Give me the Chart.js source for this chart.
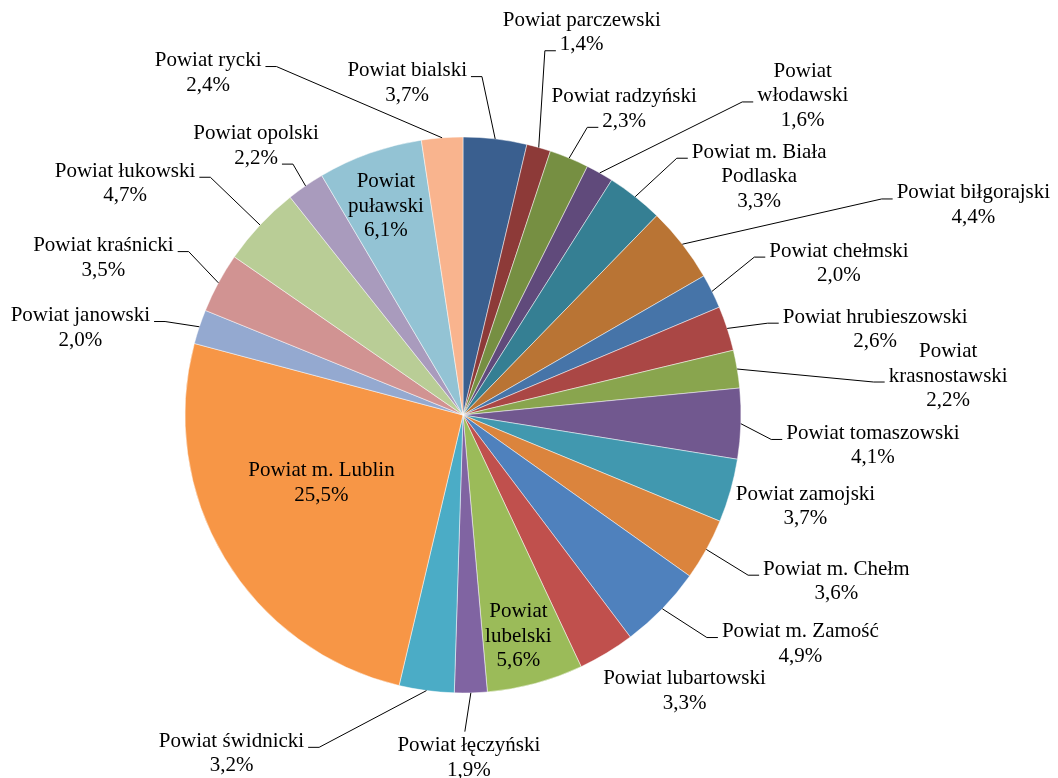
<!DOCTYPE html>
<html>
<head>
<meta charset="utf-8">
<script src="https://cdn.jsdelivr.net/npm/chart.js@4/dist/chart.umd.min.js"></script>
<style>
  html, body { margin: 0; padding: 0; background: #ffffff; }
  #wrap { width: 1058px; height: 778px; position: relative; }
</style>
</head>
<body>
<div id="wrap"><canvas id="c" width="1058" height="778"></canvas></div>
<script>
// ---- data ----
const categories = [
  "Powiat bialski", "Powiat parczewski", "Powiat radzyński", "Powiat włodawski",
  "Powiat m. Biała Podlaska", "Powiat biłgorajski", "Powiat chełmski", "Powiat hrubieszowski",
  "Powiat krasnostawski", "Powiat tomaszowski", "Powiat zamojski", "Powiat m. Chełm",
  "Powiat m. Zamość", "Powiat lubartowski", "Powiat lubelski", "Powiat łęczyński",
  "Powiat świdnicki", "Powiat m. Lublin", "Powiat janowski", "Powiat kraśnicki",
  "Powiat łukowski", "Powiat opolski", "Powiat puławski", "Powiat rycki"
];
const shares = [
  3.7, 1.4, 2.3, 1.6,
  3.3, 4.4, 2.0, 2.6,
  2.2, 4.1, 3.7, 3.6,
  4.9, 3.3, 5.6, 1.9,
  3.2, 25.5, 2.0, 3.5,
  4.7, 2.2, 6.1, 2.4
];
const sliceColors = [
  "#3A5F8F", "#8D3A38", "#768F42", "#604A7B",
  "#357F93", "#B97434", "#4674A8", "#AA4745",
  "#89A54E", "#71588F", "#4198AF", "#DB843D",
  "#4F81BD", "#C0504D", "#9BBB59", "#8064A2",
  "#4BACC6", "#F79646", "#94A9D0", "#D19392",
  "#B9CD96", "#A99BBD", "#93C3D4", "#F9B48E"
];
// label placement: [dx, dy from slice edge midpoint, leader side, leader line index, wrap width]
const labelLayout = [
  [-88, -56, 'R', 0], [43, -115, 'L', 1], [55, -49, 'L', 1], [203, -77, 'L', 1, 100],
  [124, -20, 'L', 0, 145], [291, -39, 'L', 0], [127, -28, 'L', 0], [148, 1, 'L', 0],
  [211, 7, 'L', 1, 135], [132, 22, 'L', 0], [75, 16, null], [130, 32, 'L', 0],
  [138, 35, 'L', 0], [78, 38, null], [-17, -47, null, 0, 90], [-2, 65, 'T', 0],
  [-195, 63, 'R', 0], [97, -75, null], [-119, 1, 'R', 0], [-115, -25, 'R', 0],
  [-135, -41.5, 'R', 0], [-49.5, -40, 'R', 1], [16, 53, null, 0, 90], [-234, -65, 'R', 0]
];

const FONT = '21px "Liberation Serif", "Times New Roman", serif';
const LINE_H = 24.5;

function fmtPct(v) { return v.toFixed(1).replace('.', ',') + '%'; }

function wrapText(ctx, text, maxW) {
  if (!maxW) return [text];
  const words = text.split(' ');
  const lines = [];
  let cur = '';
  for (const w of words) {
    const t = cur ? cur + ' ' + w : w;
    if (ctx.measureText(t).width > maxW && cur) { lines.push(cur); cur = w; }
    else cur = t;
  }
  if (cur) lines.push(cur);
  return lines;
}

const labelPlugin = {
  id: 'pieLabels',
  afterDatasetsDraw(chart) {
    const ctx = chart.ctx;
    const meta = chart.getDatasetMeta(0);
    ctx.save();
    ctx.font = FONT;
    ctx.fillStyle = '#000';
    ctx.textAlign = 'center';
    ctx.textBaseline = 'middle';
    ctx.strokeStyle = '#000';
    ctx.lineWidth = 1;
    meta.data.forEach((arc, i) => {
      const p = arc.getProps(['x', 'y', 'startAngle', 'endAngle', 'outerRadius'], true);
      const mid = (p.startAngle + p.endAngle) / 2;
      const ex = p.x + p.outerRadius * Math.cos(mid);
      const ey = p.y + p.outerRadius * Math.sin(mid);
      const [dx, dy, side, li, wrapW] = labelLayout[i];
      const lines = wrapText(ctx, categories[i], wrapW).concat([fmtPct(shares[i])]);
      const cx = ex + dx, cy = ey + dy;
      const n = lines.length;
      const ys = lines.map((_, k) => cy + (k - (n - 1) / 2) * LINE_H);
      lines.forEach((t, k) => ctx.fillText(t, cx, ys[k]));
      if (side) {
        ctx.beginPath();
        if (side === 'T') {
          const top = ys[0] - 14;
          ctx.moveTo(ex, ey);
          ctx.lineTo(cx - 4, top);
        } else {
          const w = ctx.measureText(lines[li]).width;
          const ay = ys[li] + 6;
          const ax = side === 'R' ? cx + w / 2 + 4 : cx - w / 2 - 4;
          const bx = side === 'R' ? ax + 11 : ax - 11;
          ctx.moveTo(ax, ay);
          ctx.lineTo(bx, ay);
          ctx.lineTo(ex, ey);
        }
        ctx.stroke();
      }
    });
    ctx.restore();
  }
};

new Chart(document.getElementById('c'), {
  type: 'pie',
  data: {
    labels: categories,
    datasets: [{
      data: shares,
      backgroundColor: sliceColors,
      borderColor: 'rgba(255,255,255,0.6)',
      borderWidth: 0.8
    }]
  },
  options: {
    responsive: false,
    animation: false,
    radius: 278,
    layout: { padding: { left: 185, right: 317, top: 137, bottom: 85 } },
    plugins: { legend: { display: false }, tooltip: { enabled: false } }
  },
  plugins: [labelPlugin]
});
</script>
</body>
</html>
